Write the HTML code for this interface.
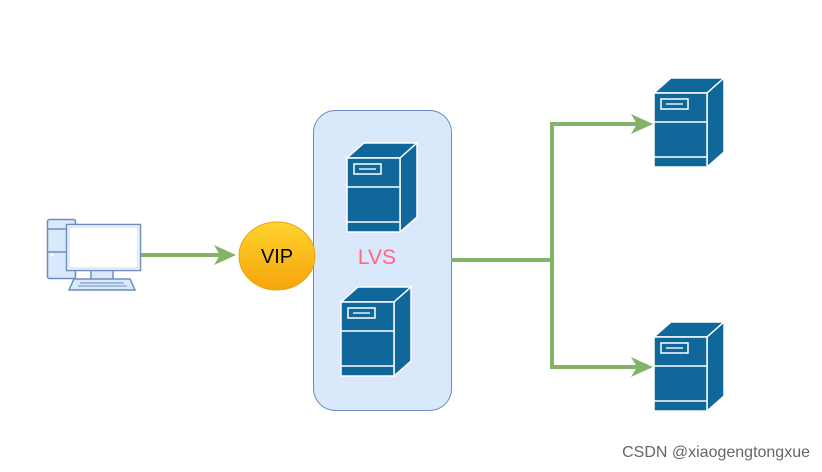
<!DOCTYPE html>
<html><head><style>body{margin:0;background:#fff}svg{display:block}</style></head><body>
<svg width="822" height="472" viewBox="0 0 822 472" xmlns="http://www.w3.org/2000/svg">
<defs>
<linearGradient id="g" x1="0" y1="0" x2="0" y2="1"><stop offset="0" stop-color="#ffd42e"/><stop offset="1" stop-color="#f5a40c"/></linearGradient>
<g id="srv" stroke="#fff" stroke-width="1.5" fill="#10679a">
<polygon points="0,0 17,-15 70,-15 53,0"/>
<polygon points="53,0 70,-15 70,59 53,74"/>
<rect x="0" y="0" width="53" height="74"/>
<line x1="0" y1="29" x2="53" y2="29"/>
<line x1="0" y1="64" x2="53" y2="64"/>
<rect x="7" y="6" width="27" height="10"/>
<line x1="12" y1="11" x2="29" y2="11" stroke="#b0cde0" stroke-width="2"/>
</g>
</defs>
<rect x="313.5" y="110.5" width="138" height="300" rx="22" fill="#dae8fc" stroke="#6c8ebf"/>
<g stroke="#82b366" stroke-width="4" fill="none">
<line x1="140" y1="255" x2="222" y2="255"/>
<polyline points="451,260 552,260"/>
<polyline points="640,124 552,124 552,367 640,367"/>
</g>
<g fill="#82b366">
<polygon points="236,255 214,245 220,255 214,265"/>
<polygon points="653,124 631,114 637,124 631,134"/>
<polygon points="653,367 631,357 637,367 631,377"/>
</g>
<ellipse cx="277" cy="256" rx="38" ry="34" fill="url(#g)" stroke="#e8a60e"/>
<text x="277" y="263" text-anchor="middle" font-family="Liberation Sans, sans-serif" font-size="20" fill="#000">VIP</text>
<text x="377" y="264" text-anchor="middle" font-family="Liberation Sans, sans-serif" font-size="21" fill="#ff6680">LVS</text>
<use href="#srv" x="347" y="158"/>
<use href="#srv" x="341" y="302"/>
<use href="#srv" x="654" y="93"/>
<use href="#srv" x="654" y="337"/>
<g stroke="#6c8ebf" stroke-width="1.5" fill="#dae8fc">
<rect x="47.5" y="219.5" width="28" height="59" rx="2"/>
<line x1="47.5" y1="229" x2="66" y2="229"/><line x1="47.5" y1="252" x2="66" y2="252"/>
<rect x="91" y="270" width="22" height="10"/>
<polygon points="74,279 130,279 135,290 69,290"/>
<rect x="66.5" y="224.5" width="74" height="46" fill="#fff"/>
<rect x="69" y="227" width="69" height="41" fill="#fff" stroke="#c8d6ec" stroke-width="1"/>
</g>
<g stroke="#6c8ebf" stroke-width="1"><line x1="80" y1="283" x2="124" y2="283"/><line x1="78" y1="286" x2="127" y2="286"/></g>
<circle cx="52" cy="255" r="1.5" fill="#fff"/>
<text x="810" y="457" text-anchor="end" font-family="Liberation Sans, sans-serif" font-size="16" fill="#666">CSDN @xiaogengtongxue</text>
</svg>
</body></html>
